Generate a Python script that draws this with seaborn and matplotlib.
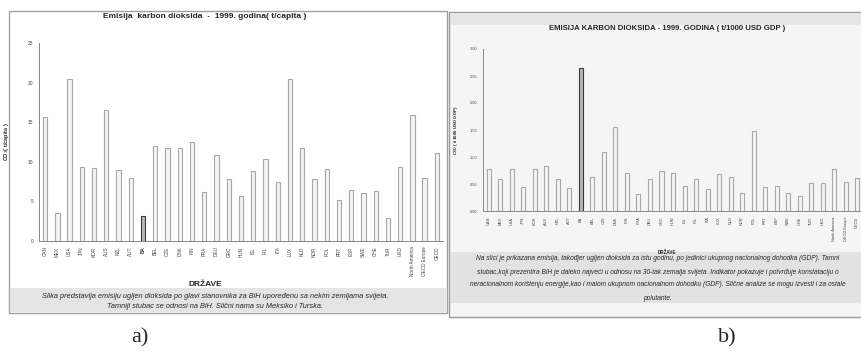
import matplotlib
matplotlib.use("Agg")
import matplotlib.pyplot as plt
from matplotlib.patches import Rectangle
import numpy as np
import pandas as pd
import seaborn as sns

countries = ['CAN', 'MEX', 'USA', 'JPN', 'KOR', 'AUS', 'NZL', 'AUT', 'BA', 'BEL', 'CZE',
             'DNK', 'FIN', 'FRA', 'DEU', 'GRC', 'HUN', 'ISL', 'IRL', 'ITA', 'LUX', 'NLD',
             'NOR', 'POL', 'PRT', 'ESP', 'SWE', 'CHE', 'TUR', 'UKD', 'North America',
             'OECD Europe', 'OECD']
co2_per_capita = [15.7, 3.5, 20.4, 9.3, 9.2, 16.6, 9.0, 7.9, 3.2, 12.0, 11.7,
                  11.7, 12.5, 6.2, 10.8, 7.8, 5.7, 8.9, 10.3, 7.4, 20.5, 11.7,
                  7.8, 9.1, 5.2, 6.4, 6.0, 6.3, 2.9, 9.4, 15.9,
                  7.9, 11.1]
co2_per_gdp = [0.77, 0.60, 0.77, 0.45, 0.78, 0.83, 0.59, 0.42, 2.65, 0.63, 1.10,
               1.56, 0.70, 0.32, 0.60, 0.74, 0.70, 0.47, 0.59, 0.41, 0.69, 0.63,
               0.34, 1.49, 0.44, 0.46, 0.34, 0.27, 0.51, 0.52, 0.77,
               0.53, 0.62]

caption_a = ["Slika predstavlja emisiju ugljen dioksida po glavi stanovnika za BiH upoređenu sa nekim zemljama svijeta.",
             "Tamniji stubac se odnosi na BiH. Slični nama su Meksiko i Turska."]
caption_b = ["Na slici je prikazana emisija, takođjer ugljen dioksida za istu godinu, po jedinici ukupnog nacionalnog dohodka (GDP). Tamni",
             "stubac,koji prezentira BiH je daleko najveći u odnosu na 30-tak zemalja svijeta. Indikator pokazuje i potvrđuje konstataciju o",
             "neracionalnom korištenju energije,kao i malom ukupnom nacionalnom dohodku (GDP). Slične analize se mogu izvesti i za ostale",
             "polutante."]

df = pd.DataFrame({'country': countries, 'per_capita': co2_per_capita, 'per_gdp': co2_per_gdp})

sns.set_style("white")
plt.rcParams['font.family'] = ['Liberation Sans', 'DejaVu Sans']

W, H = 862, 352
fig = plt.figure(figsize=(W / 100, H / 100), dpi=100)


# helpers working in pixel coordinates (origin top-left)
def box(x0, y0, x1, y1, **kw):
    fig.add_artist(Rectangle((x0 / W, 1 - y1 / H), (x1 - x0) / W, (y1 - y0) / H,
                             transform=fig.transFigure, zorder=-5, **kw))


def axes_px(x0, y0, x1, y1):
    return fig.add_axes([x0 / W, 1 - y1 / H, (x1 - x0) / W, (y1 - y0) / H])


def text_px(x, y, s, **kw):
    fig.text(x / W, 1 - y / H, s, **kw)


def style_bars(ax):
    for i, p in enumerate(ax.patches):
        if countries[i] == 'BA':
            p.set_facecolor('#b8b8b8')
            p.set_edgecolor('#3a3a3a')
        else:
            p.set_facecolor('#f4f4f4')
            p.set_edgecolor('#a8a8a8')
        p.set_linewidth(0.8)


# panel a frame
box(9, 11, 447, 313, fc='white', ec='#a0a0a0', lw=1)
box(10, 288, 446, 312, fc='#e4e4e4', ec='none')

# panel b frame
box(449, 12, 875, 317, fc='#f5f5f5', ec='#9a9a9a', lw=1)
box(451, 13, 875, 25, fc='#e6e6e6', ec='none')
box(451, 252, 875, 303, fc='#e2e2e2', ec='none')

# chart a
ax1 = axes_px(39, 43, 443, 241)
sns.barplot(data=df, x='country', y='per_capita', width=0.35, ax=ax1)
style_bars(ax1)
ax1.set_facecolor('none')
ax1.set_xlim(-0.5, len(countries) - 0.5)
ax1.set_ylim(0, 25)
ax1.set_yticks(np.arange(0, 26, 5))
ax1.tick_params(axis='y', labelsize=3.5, length=2, width=0.5, colors='#444444', pad=2)
ax1.tick_params(axis='x', labelsize=3.3, length=2, width=0.5, colors='#444444', pad=2, labelrotation=90)
for lbl in ax1.get_xticklabels():
    if lbl.get_text() == 'BA':
        lbl.set_fontweight('bold')
ax1.set_xlabel('')
ax1.set_ylabel('CO$_2$( t/capita )', fontsize=4, fontweight='bold', labelpad=12)
sns.despine(ax=ax1)
for s in ['left', 'bottom']:
    ax1.spines[s].set_color('#888888')
    ax1.spines[s].set_linewidth(0.7)

text_px(205, 16, 'Emisija  karbon dioksida  -  1999. godina( t/capita )',
        fontsize=6, fontweight='bold', ha='center', va='center')
text_px(205, 284, 'DRŽAVE', fontsize=6, fontweight='bold', ha='center', va='center')
for i, line in enumerate(caption_a):
    text_px(215, 297 + 9.5 * i, line, fontsize=5.3, style='italic', ha='center', va='center')

# chart b
ax2 = axes_px(483, 49, 863, 211)
sns.barplot(data=df, x='country', y='per_gdp', width=0.35, ax=ax2)
style_bars(ax2)
ax2.set_facecolor('none')
ax2.set_xlim(-0.5, len(countries) - 0.5)
ax2.set_ylim(0, 3)
ax2.set_yticks(np.arange(0, 3.01, 0.5))
ax2.set_yticklabels([f'{v:.2f}' for v in np.arange(0, 3.01, 0.5)])
ax2.tick_params(axis='y', labelsize=2.8, length=2, width=0.5, colors='#444444', pad=2)
ax2.tick_params(axis='x', labelsize=2.8, length=2, width=0.5, colors='#444444', pad=2, labelrotation=90)
ax2.set_xlabel('')
ax2.set_ylabel('CO$_2$ ( t/1000 USD GDP)', fontsize=3.2, fontweight='bold', labelpad=7)
sns.despine(ax=ax2)
for s in ['left', 'bottom']:
    ax2.spines[s].set_color('#888888')
    ax2.spines[s].set_linewidth(0.7)

text_px(667, 29, 'EMISIJA KARBON DIOKSIDA - 1999. GODINA ( t/1000 USD GDP )',
        fontsize=5.6, fontweight='bold', ha='center', va='center')
text_px(667, 252, 'DRŽAVE', fontsize=3.3, fontweight='bold', ha='center', va='center')
for i, line in enumerate(caption_b):
    text_px(658, 259 + 13 * i, line, fontsize=4.8, style='italic', ha='center', va='center')

text_px(140, 338, 'a)', fontsize=16, family='Liberation Serif', ha='center', va='center')
text_px(727, 338, 'b)', fontsize=16, family='Liberation Serif', ha='center', va='center')

fig.savefig('out.png', dpi=100)
